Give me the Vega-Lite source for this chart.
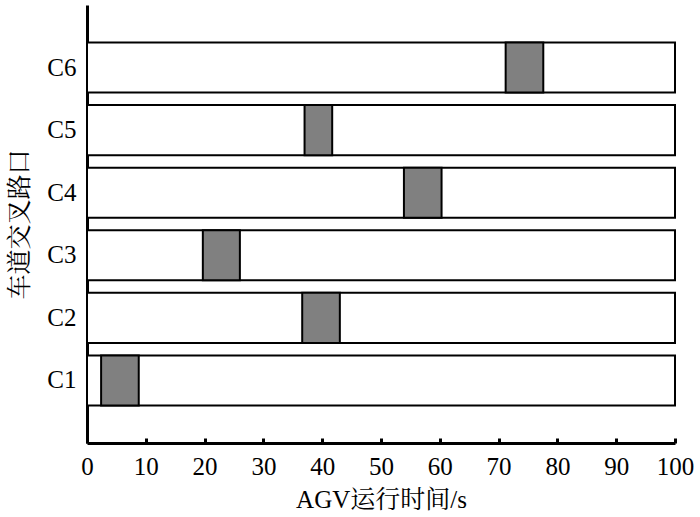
{
  "$schema": "https://vega.github.io/schema/vega-lite/v6.json",
  "width": 588,
  "height": 438,
  "autosize": "none",
  "padding": {"left": 87, "top": 5, "right": 25, "bottom": 74},
  "background": "white",
  "config": {
    "view": {"stroke": null},
    "font": "Liberation Serif",
    "axis": {
      "grid": false,
      "zindex": 1,
      "domainColor": "black",
      "domainWidth": 3,
      "tickColor": "black",
      "tickWidth": 3,
      "tickSize": -5,
      "labelFont": "Liberation Serif, Times New Roman, DejaVu Serif, serif",
      "labelFontSize": 25,
      "labelColor": "black",
      "titleFont": "Liberation Serif, Noto Serif CJK SC, Noto Sans CJK SC, serif",
      "titleFontSize": 25,
      "titleFontWeight": "normal",
      "titleColor": "black"
    }
  },
  "data": {
    "values": [
      {"lane": "C1", "start": 2.4, "end": 8.8},
      {"lane": "C2", "start": 36.6, "end": 43.0},
      {"lane": "C3", "start": 19.7, "end": 26.0},
      {"lane": "C4", "start": 53.9, "end": 60.3},
      {"lane": "C5", "start": 37.0, "end": 41.7},
      {"lane": "C6", "start": 71.2, "end": 77.6}
    ]
  },
  "encoding": {
    "y": {
      "field": "lane",
      "type": "nominal",
      "sort": "descending",
      "scale": {"paddingInner": 0.2, "paddingOuter": 0.6},
      "axis": {"title": "车道交叉路口", "labelPadding": 16, "titlePadding": 14, "labelAngle": 0}
    }
  },
  "layer": [
    {
      "mark": {"type": "bar", "fill": "white", "stroke": "black", "strokeWidth": 2},
      "encoding": {
        "x": {
          "datum": 0,
          "type": "quantitative",
          "scale": {"domain": [0, 100], "nice": false},
          "axis": {"title": "AGV运行时间/s", "values": [0, 10, 20, 30, 40, 50, 60, 70, 80, 90, 100], "labelPadding": 16, "titlePadding": 8, "labelFlush": false}
        },
        "x2": {"datum": 100}
      }
    },
    {
      "mark": {"type": "bar", "fill": "#808080", "stroke": "black", "strokeWidth": 2},
      "encoding": {
        "x": {"field": "start", "type": "quantitative"},
        "x2": {"field": "end"}
      }
    }
  ]
}
